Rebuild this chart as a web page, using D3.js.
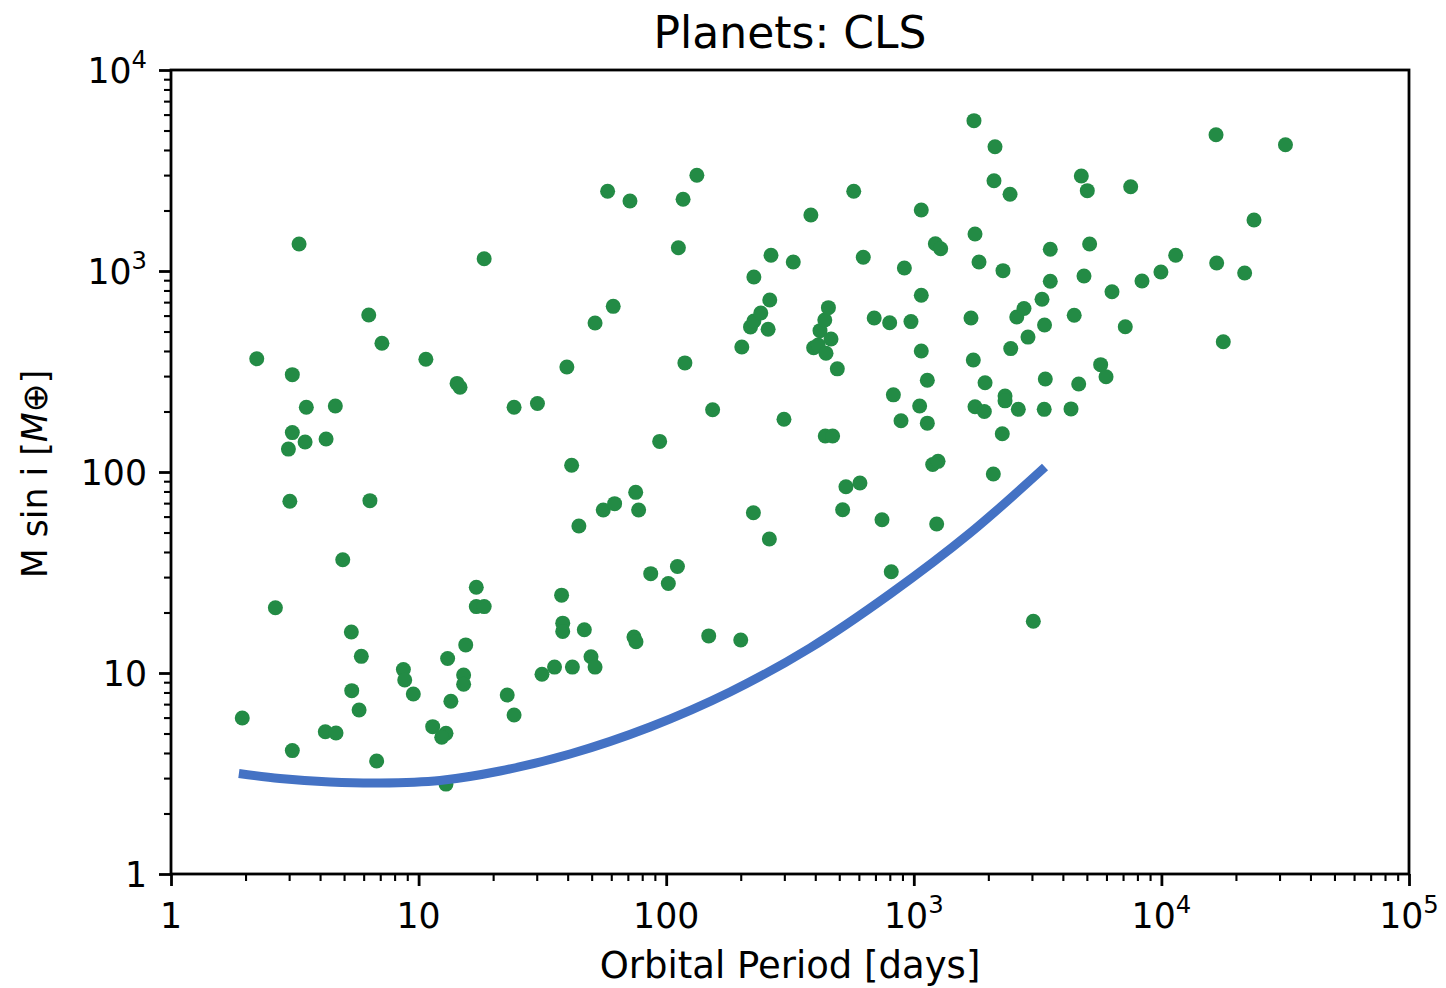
<!DOCTYPE html>
<html><head><meta charset="utf-8">
<script src="https://cdn.jsdelivr.net/npm/d3@7"></script>
<style>body{margin:0;background:#fff} svg{display:block} text{font-family:"DejaVu Sans",sans-serif;fill:#000}</style>
</head><body><svg id="c" width="1446" height="988"></svg>
<script>
// ---- data (orbital period [days], M sin i [Earth masses]) ----
const periods = [1.94, 2.22, 2.64, 3.09, 3.09, 2.98, 3.09, 3.02, 3.29, 3.52,
  3.48, 4.23, 4.61, 4.20, 4.64, 4.94, 5.35, 5.37, 5.75, 5.87,
  6.29, 6.36, 6.77, 7.11, 8.68, 8.79, 9.52, 10.7, 11.4, 12.9,
  12.4, 13.1, 12.9, 13.5, 14.3, 14.7, 15.2, 15.2, 15.5, 17.1,
  17.1, 18.4, 18.4, 22.8, 24.3, 24.3, 30.2, 31.5, 35.4, 37.8,
  38.2, 38.2, 39.7, 41.5, 41.8, 44.4, 46.7, 49.7, 51.6, 51.6,
  55.7, 58.0, 61.1, 61.9, 71.4, 74.1, 75.5, 75.3, 77.4, 86.6,
  94.1, 102, 111, 112, 117, 119, 133, 148.5, 154, 200,
  202, 219, 226, 226, 225, 241, 258, 261, 262, 265,
  299, 326, 384, 394, 411, 418, 437, 452, 442, 463,
  439, 470, 491, 516, 532, 572, 606, 625, 692, 744,
  799, 811, 827, 888, 916, 974, 1056, 1072, 1072, 1072,
  1134, 1134, 1192, 1253, 1222, 1284, 1237, 1702, 1739, 1750,
  1767, 1767, 1834, 1927, 1940, 2095, 2108, 2128, 2277, 2292,
  2336, 2336, 2447, 2463, 2605, 2643, 2786, 2892, 3039, 3295,
  3373, 3397, 3363, 3558, 3558, 4315, 4445, 4635, 4748, 4868,
  5020, 5131, 5684, 5976, 6316, 7147, 7515, 8348, 9955, 11420,
  16620, 16720, 17780, 21690, 23660, 31700];
const masses = [5.97, 366, 21.1, 4.11, 305, 130, 157, 71.5, 1362, 210,
  141, 146, 213, 5.10, 5.03, 36.6, 16.0, 8.17, 6.54, 12.1,
  604, 72.0, 3.65, 437, 10.4, 9.23, 7.86, 364, 5.41, 5.01,
  4.79, 11.8, 2.80, 7.23, 276, 264, 9.77, 8.79, 13.8, 26.7,
  21.4, 21.4, 1151, 7.77, 6.18, 210, 219, 9.85, 10.7, 24.4,
  17.7, 16.1, 333, 108, 10.7, 53.9, 16.4, 12.05, 10.7, 551,
  64.7, 2492, 667, 69.6, 2230, 15.1, 14.3, 79.2, 64.7, 31.2,
  142, 27.9, 33.9, 1306, 2274, 349, 2994, 15.3, 204, 14.6,
  419, 527, 564, 934, 62.7, 618, 513, 46.4, 717, 1197,
  183, 1109, 1900, 415, 428, 505, 570, 657, 390, 459,
  151, 151, 326, 64.9, 84.5, 2492, 88.2, 1170, 584, 57.9,
  553, 31.9, 242, 180, 1035, 560, 213, 2011, 757, 400,
  286, 175, 109, 113, 1367, 1291, 55.1, 584, 361, 5596,
  1528, 211, 1109, 200, 278, 97.7, 2814, 4153, 155, 1004,
  239, 226, 2408, 411, 590, 205, 651, 469, 18.1, 723,
  539, 290, 205, 1282, 889, 206, 602, 274, 2970, 944,
  2510, 1362, 342, 298, 789, 528, 2626, 892, 989, 1198,
  4766, 1096, 445, 977, 1794, 4250];
// detection-limit curve
const curvePeriods = [1.88, 2.755, 4.387, 6.985, 12.2, 21.32, 40.88, 86.0, 181.0, 380.9, 801.5, 1687, 3388];
const curveMasses  = [3.162, 2.987, 2.870, 2.836, 2.919, 3.253, 3.954, 5.388, 8.045, 13.32, 24.72, 49.7, 105.9];

const xTickValues = [1, 10, 100, 1000, 10000, 100000];
const xTickLabels = ["1", "10", "100", "10^3", "10^4", "10^5"];
const yTickValues = [1, 10, 100, 1000, 10000];
const yTickLabels = ["1", "10", "100", "10^3", "10^4"];
const titleText = "Planets: CLS";
const xLabelText = "Orbital Period [days]";

// ---- layout ----
const L = 171, R = 1409, T = 70, B = 874;
const FS = 34.7, FS_LABEL = 37, FS_TITLE = 44;
const svg = d3.select("#c");
const x = d3.scaleLog().domain([1, 1e5]).range([L, R]);
const y = d3.scaleLog().domain([1, 1e4]).range([B, T]);

function minors(lo, hi) {
  const out = [];
  for (let d = lo; d < hi; d *= 10) for (let k = 2; k < 10; k++) out.push(k * d);
  return out;
}

// points
svg.append("g").selectAll("circle")
  .data(d3.range(periods.length))
  .join("circle")
  .attr("cx", i => x(periods[i]))
  .attr("cy", i => y(masses[i]))
  .attr("r", 7.5)
  .attr("fill", "#238b45");

// curve
const line = d3.line()
  .x(i => x(curvePeriods[i]))
  .y(i => y(curveMasses[i]))
  .curve(d3.curveCatmullRom.alpha(0.5));
svg.append("path")
  .attr("d", line(d3.range(curvePeriods.length)))
  .attr("fill", "none")
  .attr("stroke", "#4472c4")
  .attr("stroke-width", 9);

// axes ticks
function styleAxis(g, w) {
  g.select(".domain").remove();
  g.selectAll(".tick line").attr("stroke", "#000").attr("stroke-width", w);
  g.selectAll(".tick text").remove();
}
svg.append("g").attr("transform", `translate(0,${B})`)
  .call(d3.axisBottom(x).tickValues(xTickValues).tickSize(12).tickFormat(""))
  .call(g => styleAxis(g, 2.8));
svg.append("g").attr("transform", `translate(0,${B})`)
  .call(d3.axisBottom(x).tickValues(minors(1, 1e5)).tickSize(7).tickFormat(""))
  .call(g => styleAxis(g, 2.1));
svg.append("g").attr("transform", `translate(${L},0)`)
  .call(d3.axisLeft(y).tickValues(yTickValues).tickSize(12).tickFormat(""))
  .call(g => styleAxis(g, 2.8));
svg.append("g").attr("transform", `translate(${L},0)`)
  .call(d3.axisLeft(y).tickValues(minors(1, 1e4)).tickSize(7).tickFormat(""))
  .call(g => styleAxis(g, 2.1));

function writeLabel(sel, label) {
  const parts = label.split("^");
  sel.append("tspan").text(parts[0]);
  if (parts.length > 1) {
    sel.append("tspan").attr("dy", -15).attr("font-size", FS * 0.7).text(parts[1]);
  }
}
xTickValues.forEach((v, i) => {
  const t = svg.append("text").attr("x", x(v)).attr("y", 928)
    .attr("text-anchor", "middle").attr("font-size", FS);
  writeLabel(t, xTickLabels[i]);
});
yTickValues.forEach((v, i) => {
  const t = svg.append("text").attr("x", 147).attr("y", y(v) + 12.7)
    .attr("text-anchor", "end").attr("font-size", FS);
  writeLabel(t, yTickLabels[i]);
});

// frame
svg.append("rect").attr("x", L).attr("y", T).attr("width", R - L).attr("height", B - T)
  .attr("fill", "none").attr("stroke", "#000").attr("stroke-width", 2.8);

// title & labels
svg.append("text").attr("x", (L + R) / 2).attr("y", 48).attr("text-anchor", "middle")
  .attr("font-size", FS_TITLE).text(titleText);
svg.append("text").attr("x", (L + R) / 2).attr("y", 978).attr("text-anchor", "middle")
  .attr("font-size", FS_LABEL).text(xLabelText);
const yl = svg.append("text").attr("transform", `translate(47,${(T + B) / 2 + 2}) rotate(-90)`)
  .attr("text-anchor", "middle").attr("font-size", FS);
yl.append("tspan").text("M sin i [");
yl.append("tspan").attr("font-style", "italic").text("M");
yl.append("tspan").text("\u2295]");
</script></body></html>
